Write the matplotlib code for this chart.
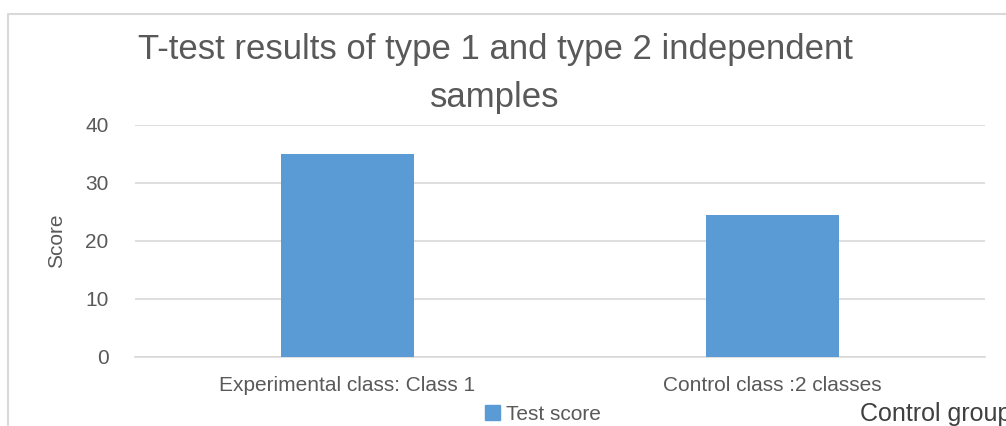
import matplotlib.pyplot as plt
from matplotlib.lines import Line2D
from matplotlib.patches import Patch

plt.rcParams['font.family'] = ['Liberation Sans', 'DejaVu Sans']

categories = ['Experimental class: Class 1', 'Control class :2 classes']
scores = [35, 24.5]
series_name = 'Test score'

W, H = 1006, 426
fig = plt.figure(figsize=(W / 100, H / 100), dpi=100)

# plot area in pixels: x 135..985, y 125..357
ax = fig.add_axes([135 / W, 1 - 357 / H, 850 / W, 232 / H])
bar_color = '#5b9bd5'
ax.bar(range(len(categories)), scores, width=0.313, color=bar_color, zorder=3)
ax.set_xlim(-0.5, len(categories) - 0.5)
ax.set_ylim(0, 40)
ax.set_yticks([0, 10, 20, 30, 40])
ax.set_xticks(range(len(categories)))
ax.set_xticklabels(categories)
ax.yaxis.grid(True, color='#d9d9d9', linewidth=1.2)
ax.set_axisbelow(True)
for s in ['top', 'right', 'left']:
    ax.spines[s].set_visible(False)
ax.spines['bottom'].set_color('#d9d9d9')
ax.spines['bottom'].set_linewidth(1.2)
ax.tick_params(length=0, labelsize=15, colors='#595959')
ax.tick_params(axis='y', pad=19)
ax.tick_params(axis='x', pad=14)
ax.set_ylabel('Score', fontsize=15, color='#595959', labelpad=14)

fig.text(495 / W, 1 - 50 / H, 'T-test results of type 1 and type 2 independent',
         fontsize=25, color='#595959', ha='center', va='center')
fig.text(495 / W, 1 - 98 / H, 'samples', fontsize=25, color='#595959',
         ha='center', va='center')

handles = [Patch(color=bar_color, label=series_name)]
fig.legend(handles=handles, loc='center', bbox_to_anchor=(543 / W, 1 - 414 / H),
           frameon=False, fontsize=15, labelcolor='#595959',
           handlelength=0.7, handleheight=0.7, handletextpad=0.3)

# cut off at the right edge, as in the original picture
fig.text(860 / W, 1 - 414 / H, 'Control group', fontsize=18, color='#404040',
         ha='left', va='center')

# outer chart border (partly cropped)
fig.add_artist(Line2D([8 / W, 8 / W, 1.0], [0, 1 - 14 / H, 1 - 14 / H],
                      transform=fig.transFigure, color='#d9d9d9', linewidth=1.5))

fig.savefig('out.png', dpi=100)
